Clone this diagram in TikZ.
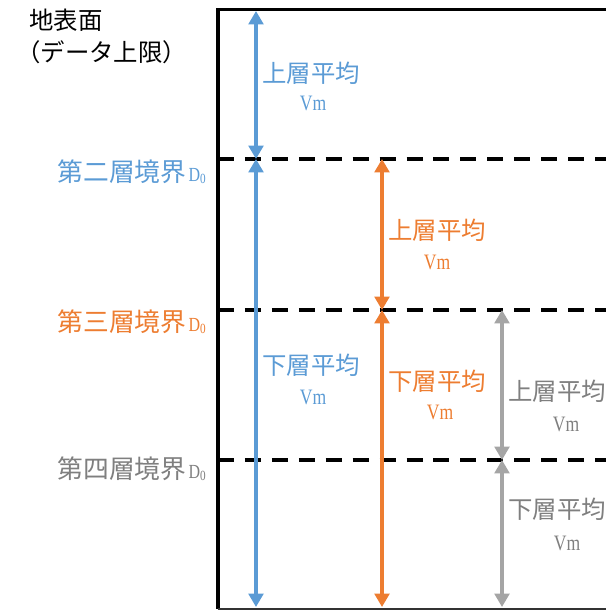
\documentclass[tikz,border=0pt]{standalone}
\usepackage{fontspec}
\setmainfont{Liberation Serif}
\newfontfamily\jpfont{Noto Sans CJK JP}
\newfontfamily\narrowfont[FakeStretch=0.8]{Liberation Serif}
\usetikzlibrary{arrows.meta}
\definecolor{layerblue}{HTML}{5B9BD5}
\definecolor{layerorange}{HTML}{ED7D31}
\definecolor{layergray}{HTML}{A5A5A5}
\definecolor{labelgray}{HTML}{7F7F7F}
\newcommand{\vmtext}{{\narrowfont\fontsize{16.5}{18}\selectfont Vm}}
\newcommand{\dzero}{{\narrowfont\fontsize{15}{16}\selectfont D\raisebox{-1.5pt}{\fontsize{10.5}{12}\selectfont 0}}}
\newcommand{\jptext}[1]{{\jpfont\fontsize{18.3}{20}\selectfont #1}}
\newcommand{\jpbound}[1]{{\jpfont\fontsize{19.3}{22}\selectfont #1}}

\begin{document}
\begin{tikzpicture}[x=0.75pt, y=-0.75pt,
  >={Triangle[width=11pt, length=10pt]},
  frame/.style={black, line width=2.3pt},
  boundary/.style={black, line width=2.3pt, dash pattern=on 12pt off 8.2pt},
  vmarrow/.style={<->, line width=2.3pt},
  lbl/.style={inner sep=0pt}]
\useasboundingbox (0,0) rectangle (606,610);
% frame and layer boundaries
\coordinate (top w) at (218,9.5);
\coordinate (top e) at (606,9.5);
\coordinate (bot w) at (218,608.5);
\coordinate (bot e) at (606,608.5);
\draw[frame] (bot w) -- (top w) -- (top e);
\draw[black!80, line width=1.5pt] (bot w) -- (bot e);
\coordinate (b1w) at (218,159);
\coordinate (b1e) at (606,159);
\coordinate (b2w) at (218,310);
\coordinate (b2e) at (606,310);
\coordinate (b3w) at (218,460);
\coordinate (b3e) at (606,460);
\draw[boundary] (b1w) -- (b1e);
\draw[boundary] (b2w) -- (b2e);
\draw[boundary] (b3w) -- (b3e);
% arrow ends
\coordinate (blue0) at (256,11);
\coordinate (blue1) at (256,159);
\coordinate (blue2) at (256,607);
\coordinate (orange1) at (382,159);
\coordinate (orange2) at (382,310);
\coordinate (orange3) at (382,607);
\coordinate (gray2) at (502,310);
\coordinate (gray3) at (502,460);
\coordinate (gray4) at (502,607);
\draw[vmarrow, layerblue] (blue0) -- (blue1);
\draw[vmarrow, layerblue] (blue1) -- (blue2);
\draw[vmarrow, layerorange] (orange1) -- (orange2);
\draw[vmarrow, layerorange] (orange2) -- (orange3);
\draw[vmarrow, layergray] (gray2) -- (gray3);
\draw[vmarrow, layergray] (gray3) -- (gray4);
% left labels
\node[lbl, anchor=west] (surface) at (29,20) {\jptext{地表面}};
\node[lbl, anchor=west] (upperlimit) at (16,52) {\jptext{（データ上限）}};
\node[lbl, anchor=east, text=layerblue] (second) at (206,172) {\jpbound{第二層境界}\,\dzero};
\node[lbl, anchor=east, text=layerorange] (third) at (206,322) {\jpbound{第三層境界}\,\dzero};
\node[lbl, anchor=east, text=labelgray] (fourth) at (206,469) {\jpbound{第四層境界}\,\dzero};
% layer means
\node[lbl, text=layerblue] (blue upper) at (311,73) {\jptext{上層平均}};
\node[lbl, text=layerblue] (blue upper vm) at (313,103) {\vmtext};
\node[lbl, text=layerblue] (blue lower) at (311,365) {\jptext{下層平均}};
\node[lbl, text=layerblue] (blue lower vm) at (313,397) {\vmtext};
\node[lbl, text=layerorange] (orange upper) at (437,230) {\jptext{上層平均}};
\node[lbl, text=layerorange] (orange upper vm) at (437,262) {\vmtext};
\node[lbl, text=layerorange] (orange lower) at (437,381) {\jptext{下層平均}};
\node[lbl, text=layerorange] (orange lower vm) at (440,412) {\vmtext};
\node[lbl, text=labelgray] (gray upper) at (557,391) {\jptext{上層平均}};
\node[lbl, text=labelgray] (gray upper vm) at (566,424) {\vmtext};
\node[lbl, text=labelgray] (gray lower) at (557,509) {\jptext{下層平均}};
\node[lbl, text=labelgray] (gray lower vm) at (567,543) {\vmtext};
\end{tikzpicture}
\end{document}
